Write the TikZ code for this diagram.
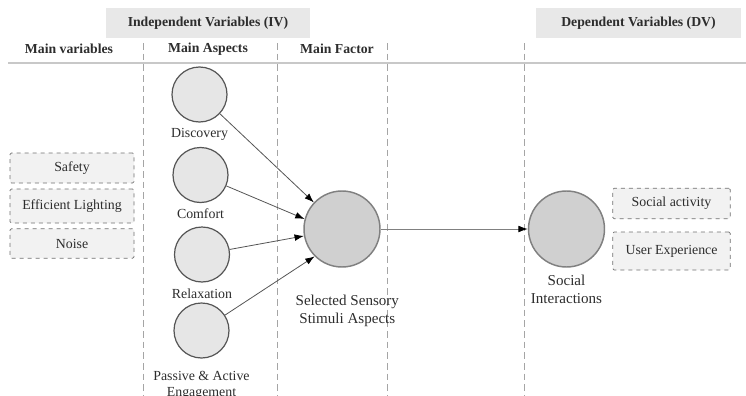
\documentclass[tikz,border=0pt]{standalone}
\usepackage{fontspec}
\setmainfont{Liberation Serif}
\usetikzlibrary{arrows.meta,positioning}

\definecolor{txtgray}{RGB}{45,45,45}
\definecolor{hdrfill}{RGB}{232,232,232}
\definecolor{boxfill}{RGB}{242,242,242}
\definecolor{boxline}{RGB}{112,112,112}
\definecolor{sepline}{RGB}{165,165,165}
\definecolor{rule}{RGB}{200,200,200}
\definecolor{smallfill}{RGB}{230,230,230}
\definecolor{smallline}{RGB}{85,85,85}
\definecolor{bigfill}{RGB}{208,208,208}
\definecolor{bigline}{RGB}{128,128,128}

\tikzset{every picture/.style={line width=0.75pt},
  hdrbox/.style={fill=hdrfill, draw=none, text=txtgray, font=\fontsize{10.3}{12}\selectfont\bfseries, minimum height=22.5pt},
  colhead/.style={text=txtgray, font=\fontsize{10.3}{12}\selectfont\bfseries, inner sep=0pt},
  varbox/.style={fill=boxfill, draw=boxline, dashed, line width=0.6pt, rounded corners=1pt, text=txtgray, font=\fontsize{10.4}{12}\selectfont},
  aspect/.style={circle, fill=smallfill, draw=smallline, line width=0.9pt, minimum size=41.25pt, inner sep=0pt},
  factor/.style={circle, fill=bigfill, draw=bigline, line width=1.1pt, minimum size=57pt, inner sep=0pt},
  aspectlbl/.style={text=txtgray, font=\fontsize{10.4}{12.5}\selectfont, inner sep=1pt, align=center},
  factorlbl/.style={text=txtgray, font=\fontsize{11.3}{13.5}\selectfont, inner sep=1pt, align=center},
  link/.style={draw=smallline, line width=0.6pt, -{Latex[length=7pt,width=5pt,color=black]}},
}

\begin{document}
\begin{tikzpicture}[x=0.75pt,y=0.75pt,yscale=-1,xscale=1]
\useasboundingbox (0,0) rectangle (746,396);

% column separators and rule
\draw [sepline, dashed, dash pattern=on 5pt off 3pt, line width=0.6pt] (143,43) -- (143,396) (277,43) -- (277,396) (387,43) -- (387,396) (524,43) -- (524,396);
\draw [rule, line width=1.1pt] (8,63) -- (746,63);

% headers
\node [hdrbox, minimum width=153pt] (ivhead) at (208,23) {Independent Variables (IV)};
\node [hdrbox, minimum width=153.75pt] (dvhead) at (638.5,23) {Dependent Variables (DV)};
\node [colhead] (mainvar) at (69,49) {Main variables};
\node [colhead] (mainasp) at (208,49) {Main Aspects};
\node [colhead] (mainfac) at (337,49) {Main Factor};

% main variables
\node [varbox, minimum width=93pt, minimum height=22.5pt] (safety) at (72,168) {Safety};
\node [varbox, minimum width=93pt, minimum height=25.5pt] (light) at (72,206) {Efficient Lighting};
\node [varbox, minimum width=93pt, minimum height=22pt] (noise) at (72,243.5) {Noise};

% aspects
\node [aspect] (disc) at (199.5,94.5) {};
\node [aspect] (comf) at (200.5,175) {};
\node [aspect] (relax) at (202,254.5) {};
\node [aspect] (pass) at (201.5,330.5) {};
\node [aspectlbl, below=3pt of disc] (disclbl) {Discovery};
\node [aspectlbl, below=3pt of comf] (comflbl) {Comfort};
\node [aspectlbl, below=3pt of relax] (relaxlbl) {Relaxation};
\node [aspectlbl, below=8pt of pass, font=\fontsize{10.4}{12.2}\selectfont] (passlbl) {Passive \& Active\\Engagement};

% factor and outcome
\node [factor] (sensory) at (342,229) {};
\node [factor] (social) at (566.5,229) {};
\node [factorlbl, below=19pt of sensory, xshift=4pt] (sensorylbl) {Selected Sensory\\Stimuli Aspects};
\node [factorlbl, below=4pt of social] (sociallbl) {Social\\Interactions};

% dependent variables
\node [varbox, minimum width=88pt, minimum height=23pt] (activity) at (671.5,203.5) {Social activity};
\node [varbox, minimum width=88pt, minimum height=28.5pt] (userexp) at (671.5,251) {User Experience};

% links
\draw [link] (disc) -- (sensory);
\draw [link] (comf) -- (sensory.165);
\draw [link] (relax) -- (sensory);
\draw [link] (pass) -- (sensory.225);
\draw [link, draw=bigline] (sensory) -- (social);

\end{tikzpicture}
\end{document}
